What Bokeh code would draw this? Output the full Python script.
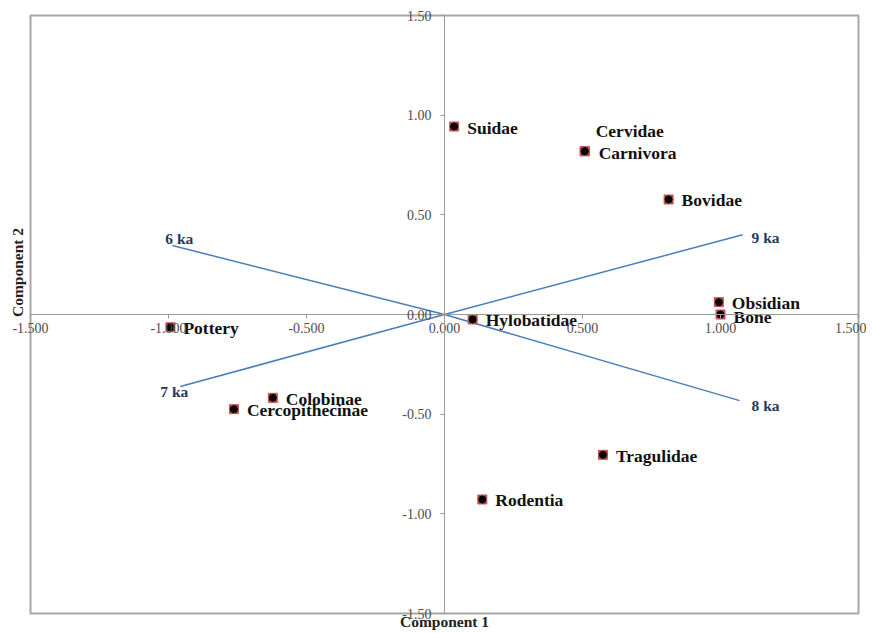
import math
from bokeh.plotting import figure
from bokeh.models import (LinearAxis, FixedTicker, NumeralTickFormatter,
                          ColumnDataSource, Range1d)
from bokeh.core.properties import value
from bokeh.embed import file_html
from bokeh.resources import INLINE

# ---- data ----
names = ["Suidae", "Cervidae", "Carnivora", "Bovidae", "Obsidian", "Bone",
         "Hylobatidae", "Pottery", "Colobinae", "Cercopithecinae",
         "Tragulidae", "Rodentia"]
comp1 = [0.035, 0.508, 0.508, 0.812, 0.994, 1.000,
         0.102, -0.993, -0.622, -0.763, 0.574, 0.137]
comp2 = [0.943, 0.819, 0.819, 0.577, 0.062, 0.000,
         -0.025, -0.064, -0.418, -0.475, -0.704, -0.928]

ka_labels = ["6 ka", "7 ka", "8 ka", "9 ka"]
ka_x = [-0.986, -0.957, 1.069, 1.080]
ka_y = [0.346, -0.361, -0.432, 0.400]

x_ticks = [-1.5, -1.0, -0.5, 0.0, 0.5, 1.0, 1.5]
y_ticks = [-1.5, -1.0, -0.5, 0.0, 0.5, 1.0, 1.5]
x_title = "Component 1"
y_title = "Component 2"

SERIF = "Liberation Serif"

# ---- layout (pixels) ----
W, H = 866, 630
BOX_L, BOX_R, BOX_T, BOX_B = 30, 858, 15, 613
xlo, xhi = x_ticks[0], x_ticks[-1]
ylo, yhi = y_ticks[0], y_ticks[-1]
xs = (BOX_R - BOX_L) / (xhi - xlo)
ys = (BOX_B - BOX_T) / (yhi - ylo)
x_start = xlo - BOX_L / xs
x_end = xhi + (W - BOX_R) / xs
y_end = yhi + BOX_T / ys
y_start = ylo - (H - BOX_B) / ys

p = figure(width=W, height=H, x_range=Range1d(x_start, x_end), y_range=Range1d(y_start, y_end),
           output_backend="svg", toolbar_location=None,
           x_axis_location=None, y_axis_location=None,
           min_border_left=0, min_border_right=0, min_border_top=0, min_border_bottom=0)
p.grid.visible = False
p.outline_line_color = None
p.background_fill_color = "white"
p.border_fill_color = "white"

# plot-area box
p.quad(left=xlo, right=xhi, bottom=ylo, top=yhi, fill_color=None,
       line_color="#a6a6a6", line_width=2)

AX = "#9a9a9a"
LBL = "#4d4d4d"

xa = LinearAxis(fixed_location=0, ticker=FixedTicker(ticks=x_ticks), bounds=(xlo, xhi),
                formatter=NumeralTickFormatter(format="0.000"))
ya = LinearAxis(fixed_location=0, ticker=FixedTicker(ticks=y_ticks), bounds=(ylo, yhi),
                formatter=NumeralTickFormatter(format="0.00"))
for a in (xa, ya):
    a.axis_line_color = AX
    a.major_tick_line_color = AX
    a.minor_tick_line_color = None
    a.major_tick_in = 0
    a.major_tick_out = 4
    a.major_label_text_font = SERIF
    a.major_label_text_font_size = "14px"
    a.major_label_text_color = LBL
xa.major_label_standoff = 4
ya.major_label_standoff = 9
p.add_layout(xa, "below")
p.add_layout(ya, "left")

# ka vectors
ka_src = ColumnDataSource(dict(x=ka_x, y=ka_y, t=ka_labels,
                               xo=[-7, -20, 12, 9], yo=[-7, 5, 5, 3]))
p.segment(x0=0, y0=0, x1="x", y1="y", source=ka_src, line_color="#4a7ebb", line_width=1.5)
p.text(x="x", y="y", text="t", source=ka_src, x_offset="xo", y_offset="yo",
       text_font=value(SERIF), text_font_style="bold", text_font_size="15.5px",
       text_color="#1f3a60", text_baseline="middle", text_align="left")

# points
yoff = {"Cervidae": -20, "Carnivora": 2, "Bone": 2}
xoff = {"Cervidae": 11, "Carnivora": 14}
pt_src = ColumnDataSource(dict(x=comp1, y=comp2, t=names,
                               xo=[xoff.get(n, 13) for n in names],
                               yo=[yoff.get(n, 1) for n in names]))
p.scatter(x="x", y="y", source=pt_src, marker="square", size=9,
          fill_color="#c0504d", line_color="#c0504d")
p.scatter(x="x", y="y", source=pt_src, marker="circle", size=7,
          fill_color="black", line_color="black")
p.text(x="x", y="y", text="t", source=pt_src, x_offset="xo", y_offset="yo",
       text_font=value(SERIF), text_font_style="bold", text_font_size="17.5px",
       text_color="#111111", text_baseline="middle", text_align="left")

# axis titles
p.text(x=[0], y=[y_start], text=[x_title], y_offset=-1, text_align="center",
       text_baseline="bottom", text_font=value(SERIF), text_font_style="bold",
       text_font_size="15.5px", text_color="#222222")
p.text(x=[x_start], y=[0], text=[y_title], x_offset=17, y_offset=-42, angle=math.pi / 2,
       text_align="center", text_baseline="middle", text_font=value(SERIF),
       text_font_style="bold", text_font_size="15.5px", text_color="#222222")

open("out.html", "w").write(file_html(p, INLINE))
